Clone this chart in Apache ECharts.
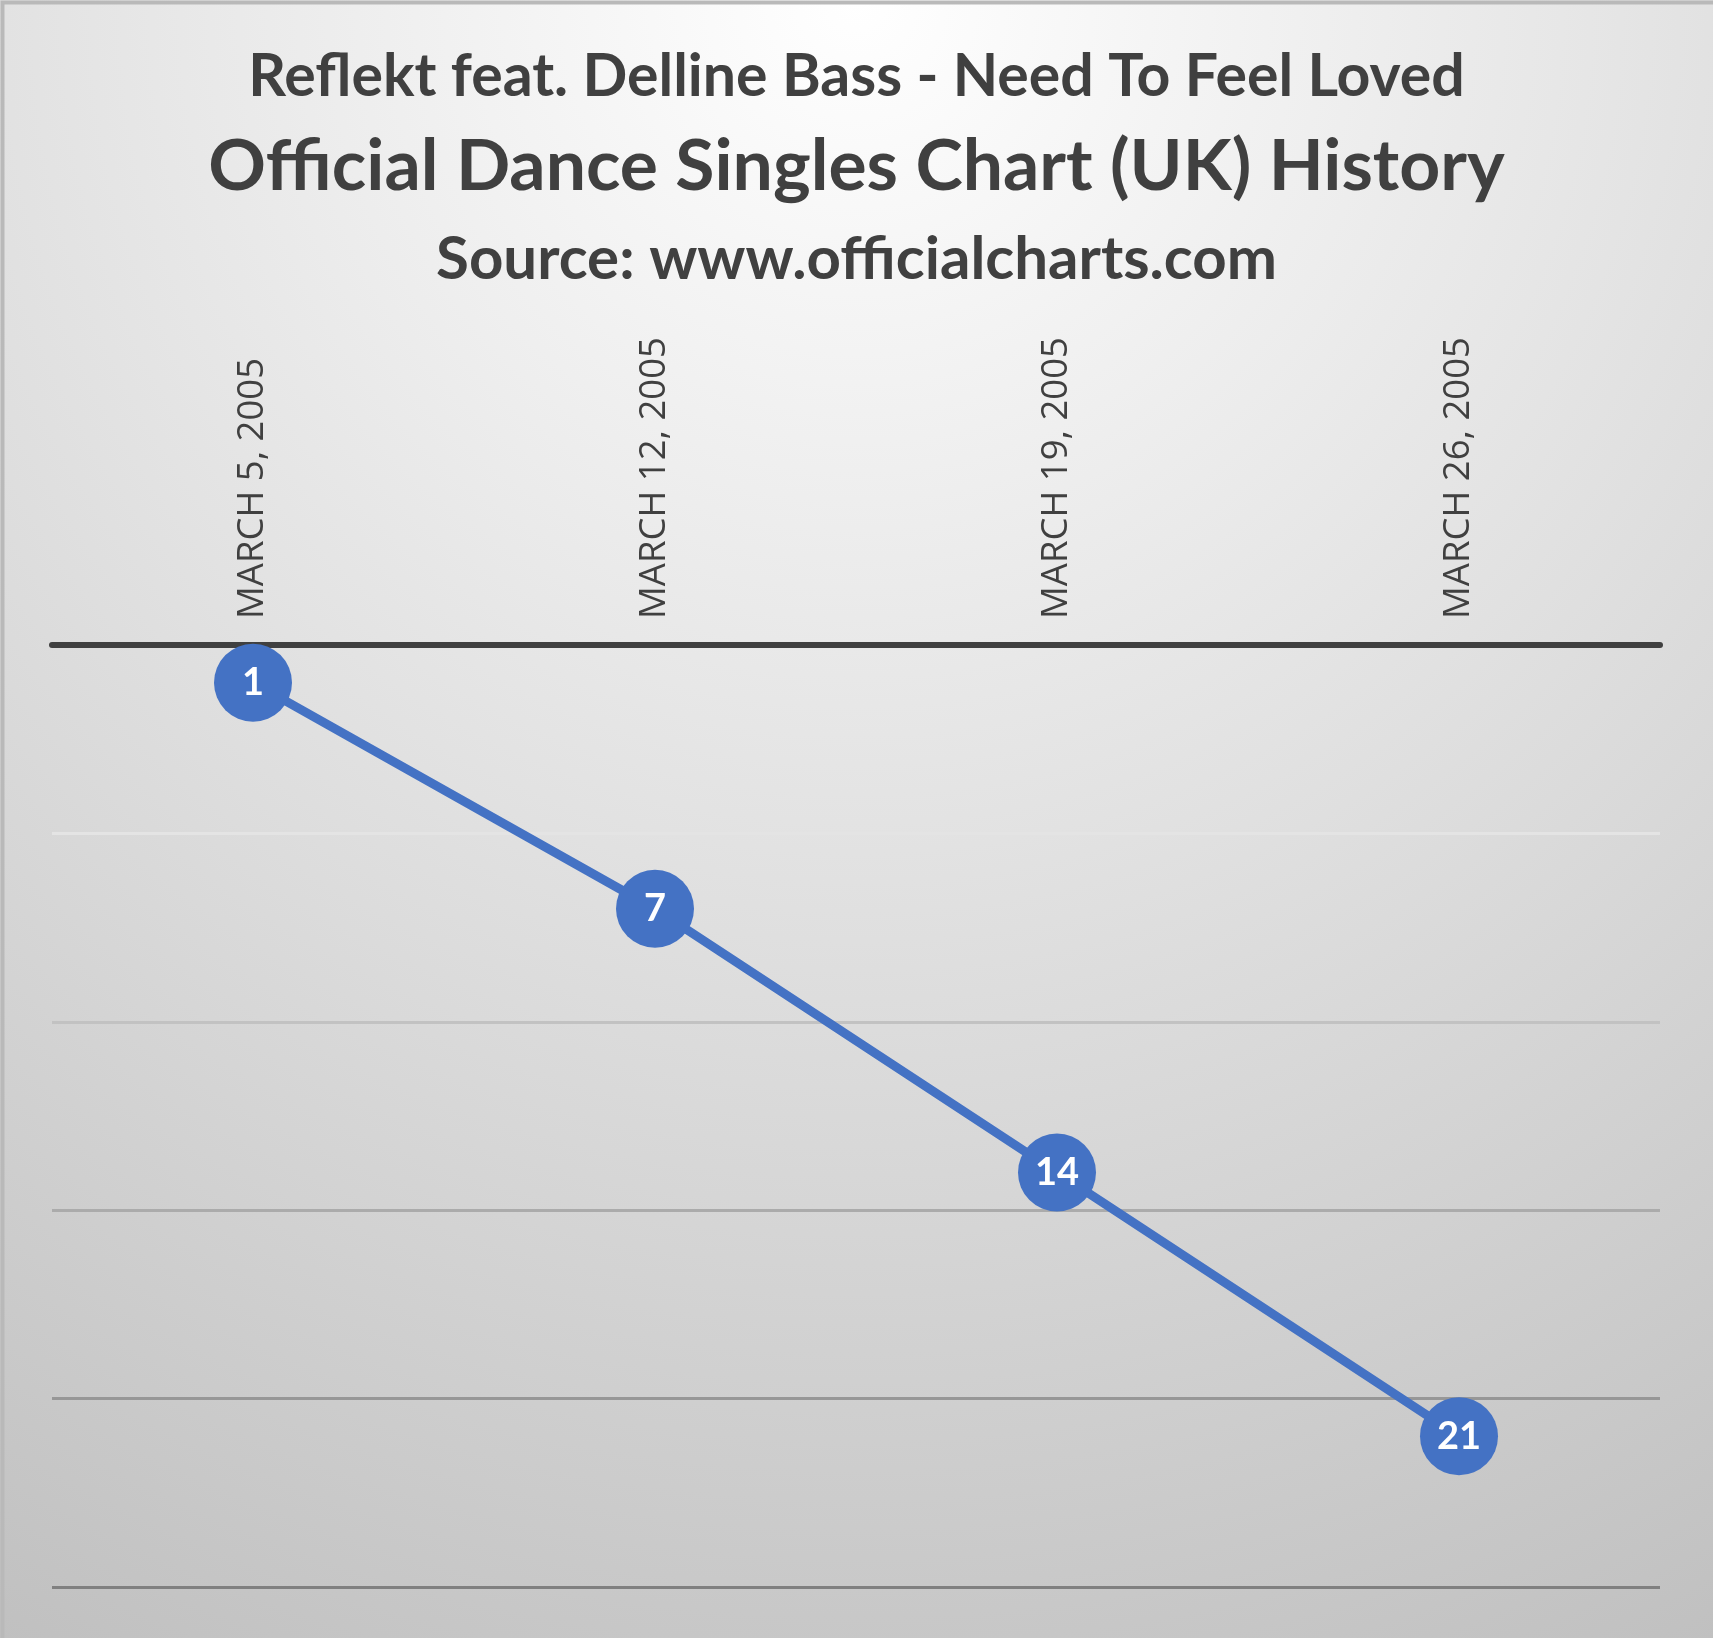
<!DOCTYPE html>
<html>
<head>
<meta charset="utf-8">
<script src="https://cdn.jsdelivr.net/npm/echarts@6/dist/echarts.min.js"></script>
<style>
html,body{margin:0;padding:0;width:1713px;height:1638px;overflow:hidden;}
#chart{width:1713px;height:1638px;}
</style>
</head>
<body>
<div id="chart"></div>
<script>
var titleLines = ['Reflekt feat. Delline Bass - Need To Feel Loved', 'Official Dance Singles Chart (UK) History', 'Source: www.officialcharts.com'];
var categories = ['MARCH 5, 2005', 'MARCH 12, 2005', 'MARCH 19, 2005', 'MARCH 26, 2005'];
var positions = [1, 7, 14, 21];
var yTicks = [0, 5, 10, 15, 20, 25];

var chart = echarts.init(document.getElementById('chart'));
var titleFont = 'Lato';
var option = {
  backgroundColor: {
    type: 'radial', x: 0.5, y: 0, r: 1.13,
    colorStops: [{offset: 0, color: '#ffffff'}, {offset: 1, color: '#c0c0c0'}]
  },
  title: [
    {text: titleLines[0], left: 'center', top: 42, textStyle: {fontFamily: titleFont, fontWeight: 'bold', fontSize: 59, color: '#404040'}},
    {text: titleLines[1], left: 'center', top: 126, textStyle: {fontFamily: titleFont, fontWeight: 'bold', fontSize: 71.5, color: '#404040'}},
    {text: titleLines[2], left: 'center', top: 225, textStyle: {fontFamily: titleFont, fontWeight: 'bold', fontSize: 60, color: '#404040'}}
  ],
  graphic: [{
    type: 'rect', left: 0, top: 0, z: 100, silent: true,
    shape: {width: 1713, height: 1638},
    style: {fill: 'none', stroke: '#b9b9b9', lineWidth: 4}
  }],
  grid: {left: 52, right: 53, top: 645, bottom: 51, containLabel: false},
  xAxis: {
    type: 'category',
    position: 'top',
    data: categories,
    boundaryGap: true,
    axisLine: {show: true, lineStyle: {color: '#404040', width: 6}},
    axisTick: {show: false},
    axisLabel: {rotate: 90, margin: 26, fontFamily: 'Open Sans', fontSize: 36.5, color: '#404040'},
    splitLine: {show: false}
  },
  yAxis: {
    type: 'value',
    inverse: true,
    min: yTicks[0],
    max: yTicks[yTicks.length - 1],
    interval: yTicks[1] - yTicks[0],
    axisLine: {show: false},
    axisTick: {show: false},
    axisLabel: {show: false},
    splitLine: {show: true, lineStyle: {width: 3, color: ['rgba(0,0,0,0)', '#e4e4e4', '#c2c2c2', '#ababab', '#979797', '#808080']}}
  },
  series: [{
    type: 'line',
    data: positions,
    symbol: 'circle',
    symbolSize: 78,
    lineStyle: {color: '#4472C4', width: 9},
    itemStyle: {color: '#4472C4'},
    label: {show: true, position: 'inside', color: '#ffffff', fontFamily: titleFont, fontWeight: 'bold', fontSize: 38},
    animation: false,
    z: 5
  }]
};
chart.setOption(option);
</script>
</body>
</html>
